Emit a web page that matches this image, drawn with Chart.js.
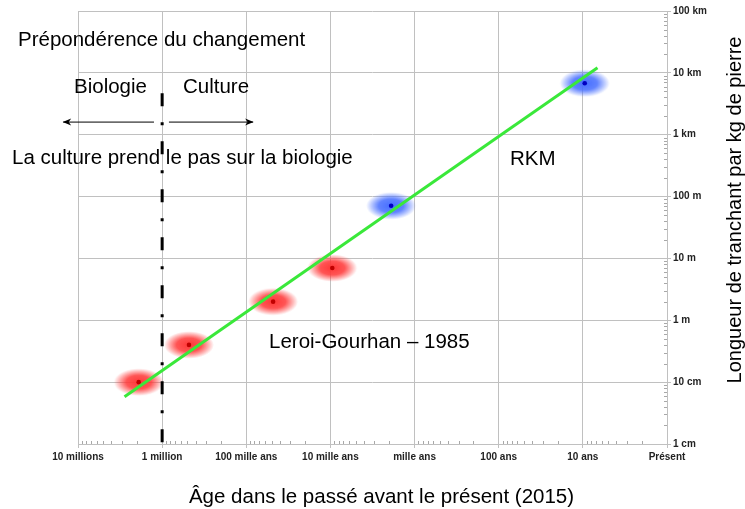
<!DOCTYPE html>
<html><head><meta charset="utf-8">
<script src="https://cdn.jsdelivr.net/npm/chart.js@4"></script>
<style>html,body{margin:0;padding:0;background:#fff}canvas{display:block}</style>
</head><body>
<canvas id="c" width="745" height="509"></canvas>
<script>
// ---- data ----
const xTickValues = [1e7, 1e6, 1e5, 1e4, 1e3, 100, 10, 1];
const xTickLabels = ['10 millions', '1 million', '100 mille ans', '10 mille ans', 'mille ans', '100 ans', '10 ans', 'Présent'];
const yTickValues = [0.01, 0.1, 1, 10, 100, 1000, 1e4, 1e5];
const yTickLabels = ['1 cm', '10 cm', '1 m', '10 m', '100 m', '1 km', '10 km', '100 km'];
const redAges = [1.9e6, 4.8e5, 4.8e4, 9.5e3];
const redLengths = [0.1, 0.4, 2, 7];
const blueAges = [1900, 9.5];
const blueLengths = [71, 6800];
const trendAges = [2.8e6, 6.7];
const trendLengths = [0.058, 12100];
const boundaryAges = [1e6, 1e6];
const boundaryLengths = [4700, 0.01];
const arrowLeftAges = [1.25e6, 1.5e7];
const arrowRightAges = [8.3e5, 8.3e4];
const arrowLengths = [1600, 1600];
const xTitle = 'Âge dans le passé avant le présent (2015)';
const yTitle = 'Longueur de tranchant par kg de pierre';
const notes = ['Prépondérence du changement', 'Biologie', 'Culture', 'La culture prend le pas sur la biologie', 'RKM', 'Leroi-Gourhan – 1985'];

// ---- helpers ----
const pts = (xs, ys) => xs.map((x, i) => ({x: x, y: ys[i]}));
function glow(r, g, b) {
  const c = document.createElement('canvas'); c.width = 56; c.height = 32;
  const x = c.getContext('2d');
  x.translate(28, 16); x.scale(1, 0.55);
  const gr = x.createRadialGradient(0, 0, 0, 0, 0, 25);
  gr.addColorStop(0, `rgba(${r},${g},${b},1)`);
  gr.addColorStop(0.5, `rgba(${r},${g},${b},0.85)`);
  gr.addColorStop(0.8, `rgba(${r},${g},${b},0.35)`);
  gr.addColorStop(1, `rgba(${r},${g},${b},0)`);
  x.fillStyle = gr; x.beginPath(); x.arc(0, 0, 25, 0, Math.PI * 2); x.fill();
  return c;
}
const FONT = '"Liberation Sans", Arial, sans-serif';
const GRID = '#c0c0c0';

function drawHead(ctx, px, py, dir) {
  ctx.save();
  ctx.translate(px, py); ctx.scale(dir, 1);
  ctx.fillStyle = '#000';
  ctx.beginPath(); ctx.moveTo(0.5, 0); ctx.lineTo(-8, -3.5); ctx.lineTo(-5.5, 0); ctx.lineTo(-8, 3.5); ctx.closePath(); ctx.fill();
  ctx.restore();
}

const decor = {
  id: 'decor',
  beforeDatasetsDraw(chart) {
    const {ctx, chartArea: a, scales: {x, y}} = chart;
    ctx.save();
    ctx.strokeStyle = '#a8a8a8'; ctx.lineWidth = 1;
    ctx.beginPath();
    for (let n = 0; n < 7; n++) for (let k = 2; k <= 9; k++) {
      const px = Math.round(x.getPixelForValue(k * Math.pow(10, n))) + 0.5;
      ctx.moveTo(px, a.bottom); ctx.lineTo(px, a.bottom - 3);
    }
    for (let n = -2; n < 5; n++) for (let k = 2; k <= 9; k++) {
      const py = Math.round(y.getPixelForValue(k * Math.pow(10, n))) + 0.5;
      ctx.moveTo(a.right, py); ctx.lineTo(a.right - 3, py);
    }
    ctx.stroke();
    ctx.restore();
  },
  afterDatasetsDraw(chart) {
    const {ctx, scales: {x, y}} = chart;
    const yl = y.getPixelForValue(arrowLengths[1]);
    drawHead(ctx, x.getPixelForValue(arrowLeftAges[1]), yl, -1);
    drawHead(ctx, x.getPixelForValue(arrowRightAges[1]), yl, 1);
  },
  afterDraw(chart) {
    const ctx = chart.ctx;
    ctx.save();
    ctx.fillStyle = '#000';
    ctx.font = '20.5px ' + FONT;
    ctx.textBaseline = 'alphabetic';
    ctx.textAlign = 'left';
    const pos = [[18, 45.5], [74, 93], [183, 93], [12, 164], [510, 165], [269, 348]];
    notes.forEach((t, i) => ctx.fillText(t, pos[i][0], pos[i][1]));
    ctx.textAlign = 'center';
    ctx.fillText(xTitle, 381.5, 503);
    ctx.font = '20px ' + FONT;
    ctx.translate(741, 210); ctx.rotate(-Math.PI / 2);
    ctx.fillText(yTitle, 0, 0);
    ctx.restore();
  }
};

const tickFont = {family: FONT, size: 10, weight: 'bold'};

new Chart(document.getElementById('c'), {
  type: 'scatter',
  data: {
    datasets: [
      {data: pts(trendAges, trendLengths), showLine: true, borderColor: '#3ae83a', borderWidth: 3, pointRadius: 0, order: 1},
      {data: pts(arrowLeftAges, arrowLengths), showLine: true, borderColor: '#000', borderWidth: 1, pointRadius: 0, clip: false, order: 2},
      {data: pts(arrowRightAges, arrowLengths), showLine: true, borderColor: '#000', borderWidth: 1, pointRadius: 0, clip: false, order: 2},
      {data: pts(boundaryAges, boundaryLengths), showLine: true, borderColor: '#000', borderWidth: 3, borderDash: [13, 16, 3, 16], borderCapStyle: 'butt', pointRadius: 0, order: 3},
      {data: pts(redAges, redLengths), pointRadius: 2.3, backgroundColor: '#c00000', borderWidth: 0, order: 4},
      {data: pts(blueAges, blueLengths), pointRadius: 2.3, backgroundColor: '#0000c0', borderWidth: 0, order: 4},
      {data: pts(redAges, redLengths), pointRadius: 10, pointStyle: glow(255, 55, 55), order: 5},
      {data: pts(blueAges, blueLengths), pointRadius: 10, pointStyle: glow(70, 110, 255), order: 5}
    ]
  },
  options: {
    responsive: false,
    animation: false,
    events: [],
    layout: {padding: {left: 78, top: 11, right: 0, bottom: 0}},
    plugins: {legend: {display: false}, tooltip: {enabled: false}, title: {display: false}},
    scales: {
      x: {
        type: 'logarithmic', reverse: true, min: 1, max: 1e7,
        afterBuildTicks: s => { s.ticks = xTickValues.map(v => ({value: v})); },
        afterFit: s => { s.height = 65; },
        ticks: {autoSkip: false, maxRotation: 0, padding: 3, color: '#222', font: tickFont,
          callback: v => xTickLabels[xTickValues.indexOf(v)]},
        grid: {color: GRID, lineWidth: 1, tickLength: 4, tickColor: GRID},
        border: {color: GRID}
      },
      y: {
        type: 'logarithmic', position: 'right', min: 0.01, max: 1e5,
        afterBuildTicks: s => { s.ticks = yTickValues.map(v => ({value: v})); },
        afterFit: s => { s.width = 78; },
        ticks: {autoSkip: false, padding: 2, color: '#222', font: tickFont,
          callback: v => yTickLabels[yTickValues.indexOf(v)]},
        grid: {color: GRID, lineWidth: 1, tickLength: 4, tickColor: GRID},
        border: {color: GRID}
      }
    }
  },
  plugins: [decor]
});
</script>
</body></html>
